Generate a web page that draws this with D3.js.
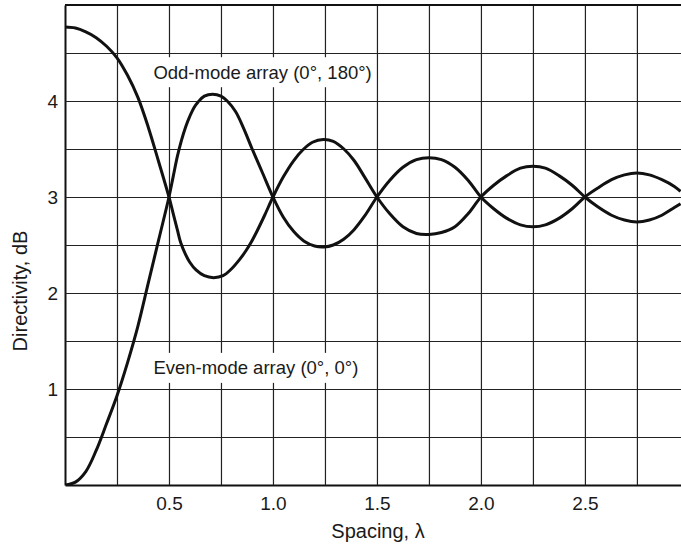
<!DOCTYPE html>
<html>
<head>
<meta charset="utf-8">
<script src="https://cdn.jsdelivr.net/npm/d3@7"></script>
<style>
  body { margin: 0; background: #fff; }
  svg { display: block; font-family: "Liberation Sans", Arial, sans-serif; }
  .grid line { stroke: #222; stroke-width: 1.2; }
  .grid path { stroke: #111; stroke-width: 2; }
  .grid text { fill: #1a1a1a; font-size: 19px; }
  .curve { fill: none; stroke: #111; stroke-width: 3; }
  .note { fill: #1a1a1a; font-size: 18.5px; }
  .ttl { fill: #1a1a1a; font-size: 20px; }
</style>
</head>
<body>
<svg id="chart" width="681" height="549"></svg>
<script>
// Grid and tick values
const xGrid   = [0.25, 0.5, 0.75, 1.0, 1.25, 1.5, 1.75, 2.0, 2.25, 2.5, 2.75];
const xLabels = [0.5, 1.0, 1.5, 2.0, 2.5];
const yGrid   = [0.5, 1, 1.5, 2, 2.5, 3, 3.5, 4, 4.5];
const yLabels = [1, 2, 3, 4];

// Odd-mode array (0°, 180°)
const oddSpacing = [
  0, 0.05, 0.10, 0.15, 0.20, 0.25, 0.30, 0.35, 0.40, 0.45, 0.50,
  0.52, 0.54, 0.557, 0.58, 0.60, 0.63, 0.67, 0.715, 0.76, 0.80, 0.84, 0.87, 0.893, 0.92, 0.96, 1.00,
  1.05, 1.10, 1.143, 1.19, 1.242, 1.29, 1.341, 1.39, 1.44, 1.50,
  1.56, 1.625, 1.69, 1.75, 1.81, 1.875, 1.94, 2.00,
  2.06, 2.123, 2.19, 2.25, 2.31, 2.377, 2.44, 2.50,
  2.56, 2.628, 2.69, 2.75, 2.81, 2.87, 2.93, 2.96];
const oddDb = [
  4.77, 4.76, 4.72, 4.66, 4.57, 4.45, 4.27, 4.04, 3.73, 3.37, 3.00,
  2.83, 2.66, 2.52, 2.40, 2.32, 2.24, 2.18, 2.16, 2.18, 2.25, 2.35, 2.44, 2.52, 2.63, 2.81, 3.00,
  3.21, 3.38, 3.49, 3.57, 3.60, 3.58, 3.50, 3.38, 3.21, 3.00,
  2.83, 2.69, 2.62, 2.61, 2.63, 2.69, 2.83, 3.00,
  3.12, 3.22, 3.30, 3.32, 3.30, 3.22, 3.12, 3.00,
  2.90, 2.81, 2.76, 2.74, 2.76, 2.81, 2.89, 2.93];

// Even-mode array (0°, 0°)
const evenSpacing = [
  0, 0.05, 0.10, 0.15, 0.20, 0.25, 0.30, 0.35, 0.40, 0.45, 0.50,
  0.52, 0.54, 0.56, 0.58, 0.60, 0.62, 0.64, 0.67, 0.71, 0.75, 0.78, 0.82, 0.86, 0.90, 0.95, 1.00,
  1.05, 1.10, 1.15, 1.20, 1.245, 1.29, 1.34, 1.39, 1.44, 1.50,
  1.56, 1.625, 1.69, 1.75, 1.81, 1.875, 1.94, 2.00,
  2.06, 2.123, 2.19, 2.25, 2.31, 2.377, 2.44, 2.50,
  2.56, 2.628, 2.69, 2.75, 2.81, 2.87, 2.93, 2.96];
const evenDb = [
  0.00, 0.03, 0.14, 0.36, 0.64, 0.93, 1.27, 1.65, 2.10, 2.55, 3.00,
  3.21, 3.42, 3.59, 3.73, 3.84, 3.93, 3.99, 4.05, 4.07, 4.05, 4.00, 3.89, 3.71, 3.50, 3.25, 3.00,
  2.79, 2.64, 2.54, 2.49, 2.48, 2.50, 2.56, 2.66, 2.80, 3.00,
  3.17, 3.31, 3.39, 3.41, 3.39, 3.31, 3.17, 3.00,
  2.88, 2.78, 2.71, 2.69, 2.71, 2.78, 2.88, 3.00,
  3.09, 3.18, 3.23, 3.25, 3.23, 3.18, 3.11, 3.06];

const pL = 65, pT = 5, pR = 681, pB = 485;

const svg = d3.select('#chart');
const x = d3.scaleLinear().domain([0, 2.962]).range([pL, pR]);
const y = d3.scaleLinear().domain([0, 5]).range([pB, pT]);

svg.append('defs').append('clipPath').attr('id', 'plot-clip')
  .append('rect')
  .attr('x', pL).attr('y', pT)
  .attr('width', pR - pL).attr('height', pB - pT);

// Grid lines + tick labels via the axes
svg.append('g').attr('class', 'grid')
  .attr('transform', `translate(0,${pB})`)
  .call(d3.axisBottom(x)
    .tickValues(xGrid)
    .tickSize(-(pB - pT))
    .tickSizeOuter(0)
    .tickPadding(12)
    .tickFormat(d => xLabels.includes(d) ? d3.format('.1f')(d) : ''));

svg.append('g').attr('class', 'grid')
  .attr('transform', `translate(${pL},0)`)
  .call(d3.axisLeft(y)
    .tickValues(yGrid)
    .tickSize(-(pR - pL))
    .tickSizeOuter(0)
    .tickPadding(7)
    .tickFormat(d => yLabels.includes(d) ? d3.format('d')(d) : ''));

svg.selectAll('.grid').attr('font-family', null).attr('font-size', null);

// Top border
svg.append('line')
  .attr('x1', pL).attr('x2', pR).attr('y1', pT).attr('y2', pT)
  .attr('stroke', '#111').attr('stroke-width', 2);

// Annotation labels (white boxes over the grid)
const notes = [
  { t: 'Odd-mode array (0°, 180°)', sx: 0.425, db: 4.3 },
  { t: 'Even-mode array (0°, 0°)',  sx: 0.425, db: 1.22 },
];
const gNote = svg.append('g');
notes.forEach(n => {
  const txt = gNote.append('text').attr('class', 'note')
    .attr('x', x(n.sx)).attr('y', y(n.db))
    .attr('dominant-baseline', 'central')
    .text(n.t);
  const bb = txt.node().getBBox();
  gNote.insert('rect', 'text')
    .attr('x', bb.x - 4).attr('y', y(n.db) - 15)
    .attr('width', bb.width + 8).attr('height', 30)
    .attr('fill', '#fff');
});

// Curves
const line = d3.line()
  .x(d => x(d[0])).y(d => y(d[1]))
  .curve(d3.curveCatmullRom.alpha(0.5));

const gCurve = svg.append('g').attr('clip-path', 'url(#plot-clip)');
gCurve.append('path').attr('class', 'curve')
  .attr('d', line(oddSpacing.map((s, i) => [s, oddDb[i]])));
gCurve.append('path').attr('class', 'curve')
  .attr('d', line(evenSpacing.map((s, i) => [s, evenDb[i]])));

// Axis titles
svg.append('text').attr('class', 'ttl')
  .attr('x', 378).attr('y', 531)
  .attr('text-anchor', 'middle').attr('dominant-baseline', 'central')
  .text('Spacing, λ');

svg.append('text').attr('class', 'ttl')
  .attr('transform', 'translate(20,291) rotate(-90)')
  .attr('text-anchor', 'middle').attr('dominant-baseline', 'central')
  .text('Directivity, dB');
</script>
</body>
</html>
